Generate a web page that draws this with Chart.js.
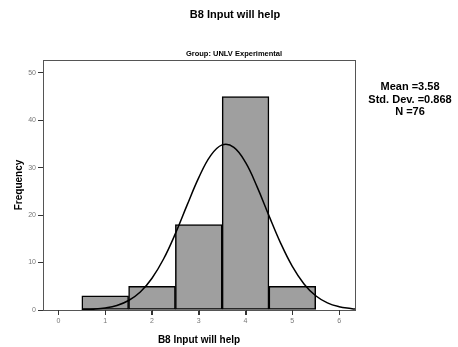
<!DOCTYPE html>
<html><head><meta charset="utf-8">
<script src="https://cdn.jsdelivr.net/npm/chart.js@4"></script>
<style>html,body{margin:0;padding:0;background:#fff}#wrap{width:458px;height:347px}</style>
</head><body><div id="wrap"><canvas id="c" width="458" height="347"></canvas></div>
<script>
// Histogram bins (value centers) and their frequencies
const binCenters = [1, 2, 3, 4, 5];
const frequencies = [3, 5, 18, 45, 5];
// Normal curve
const curveX = [0.5, 0.75, 1, 1.25, 1.5, 1.75, 2, 2.25, 2.5, 2.75, 3, 3.25, 3.5, 3.75, 4, 4.25, 4.5, 4.75, 5, 5.25, 5.5, 5.75, 6, 6.25, 6.34];
const curveY = [0.06, 0.17, 0.42, 0.95, 2.0, 3.8, 6.7, 10.8, 16.1, 22.1, 27.9, 32.5, 34.8, 34.3, 31.1, 25.9, 19.9, 14.1, 9.2, 5.5, 3.0, 1.5, 0.7, 0.3, 0.2];
const xTicks = [0, 1, 2, 3, 4, 5, 6];
const yTicks = [0, 10, 20, 30, 40, 50];
const titleText = 'B8 Input will help';
const subtitleText = 'Group: UNLV Experimental';
const xAxisTitle = 'B8 Input will help';
const yAxisTitle = 'Frequency';
const statsLines = ['Mean =3.58', 'Std. Dev. =0.868', 'N =76'];

const FONT = "'Liberation Sans', Arial, sans-serif";

const textPlugin = {
  id: 'texts',
  afterDraw(chart) {
    const ctx = chart.ctx;
    const a = chart.chartArea;
    const xs = chart.scales.x;
    ctx.save();
    ctx.strokeStyle = '#555';
    ctx.lineWidth = 1;
    ctx.strokeRect(Math.round(a.left) + 0.5, Math.round(a.top) + 0.5, Math.round(a.right - a.left), Math.round(a.bottom - a.top));
    // x-axis tick marks below the axis, placed by the scale
    ctx.strokeStyle = '#333';
    ctx.beginPath();
    xTicks.forEach(v => {
      const px = Math.round(xs.getPixelForValue(v)) + 0.5;
      ctx.moveTo(px, Math.round(a.bottom));
      ctx.lineTo(px, Math.round(a.bottom) + 5);
    });
    ctx.stroke();
    ctx.fillStyle = '#000';
    ctx.textAlign = 'center';
    ctx.textBaseline = 'middle';
    ctx.font = 'bold 11px ' + FONT;
    ctx.fillText(titleText, 235, 15);
    ctx.font = 'bold 7.5px ' + FONT;
    ctx.fillText(subtitleText, 234, 54);
    ctx.font = 'bold 11px ' + FONT;
    statsLines.forEach((s, i) => ctx.fillText(s, 410, 87 + i * 12.5));
    ctx.restore();
  }
};

new Chart(document.getElementById('c'), {
  type: 'bar',
  data: {
    datasets: [
      {
        type: 'line',
        data: curveX.map((x, i) => ({ x, y: curveY[i] })),
        borderColor: '#000',
        borderWidth: 1.5,
        pointRadius: 0,
        tension: 0.4,
        fill: false,
        order: 0
      },
      {
        type: 'bar',
        data: binCenters.map((x, i) => ({ x, y: frequencies[i] })),
        backgroundColor: '#9f9f9f',
        borderColor: '#000',
        borderWidth: 1.5,
        borderSkipped: false,
        barPercentage: 1,
        categoryPercentage: 1,
        order: 1
      }
    ]
  },
  options: {
    responsive: false,
    animation: false,
    devicePixelRatio: 1,
    layout: { padding: { top: 60, right: 103, left: 0, bottom: 0 } },
    plugins: { legend: { display: false }, tooltip: { enabled: false }, title: { display: false } },
    scales: {
      x: {
        type: 'linear',
        offset: false,
        min: -0.33,
        max: 6.34,
        afterBuildTicks: s => { s.ticks = xTicks.map(v => ({ value: v })); },
        afterFit: s => { s.height = 37; },
        grid: { offset: false, display: true, drawOnChartArea: false, drawTicks: true, tickLength: 5, color: '#333', tickColor: '#333', tickWidth: 1 },
        border: { display: true, color: '#555' },
        ticks: { color: '#777', font: { size: 7, family: FONT }, padding: 2, maxRotation: 0 },
        title: { display: true, text: xAxisTitle, color: '#000', font: { size: 10, weight: 'bold', family: FONT }, padding: { top: 0, bottom: 1 } }
      },
      y: {
        min: 0,
        max: 52.7,
        afterBuildTicks: s => { s.ticks = yTicks.map(v => ({ value: v })); },
        afterFit: s => { s.width = 43; },
        grid: { drawOnChartArea: false, drawTicks: true, tickLength: 5, color: '#333', tickColor: '#333', tickWidth: 1 },
        border: { display: true, color: '#555' },
        ticks: { color: '#777', font: { size: 7, family: FONT }, padding: 2 },
        title: { display: true, text: yAxisTitle, color: '#000', font: { size: 10, weight: 'bold', family: FONT }, padding: { top: 13, bottom: 0 } }
      }
    }
  },
  plugins: [textPlugin]
});
</script>
</body></html>
